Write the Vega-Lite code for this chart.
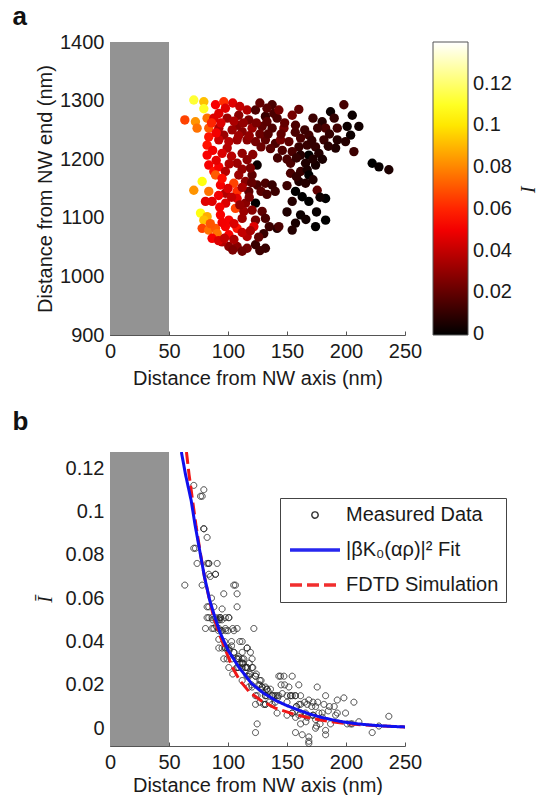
{
"$schema": "https://vega.github.io/schema/vega-lite/v6.json",
"padding": {"left": 12, "top": 4, "right": 8, "bottom": 0},
"background": "white",
"spacing": 21,
"resolve": {
  "scale": {"color": "independent", "shape": "independent", "strokeDash": "independent"},
  "legend": {"color": "independent", "shape": "independent", "strokeDash": "independent"}
},
"config": {
  "view": {"stroke": null},
  "font": "Liberation Sans",
  "title": {"fontSize": 26, "fontWeight": "bold", "anchor": "start", "frame": "group", "font": "Liberation Sans", "color": "#111"},
  "axis": {"labelFont": "Liberation Sans", "titleFont": "Liberation Sans", "labelFontSize": 20, "titleFontSize": 20, "titleFontWeight": "normal", "labelColor": "#1a1a1a", "titleColor": "#1a1a1a", "domainColor": "#555", "tickColor": "#555", "tickSize": -4, "labelPadding": 10, "grid": false, "labelFlush": false, "labelOverlap": false, "zindex": 1}
},
"datasets": {
"pts": [
{"d":71.0,"z":1301,"I":0.112},{"d":79.5,"z":1298,"I":0.092},{"d":79.5,"z":1286,"I":0.110},{"d":63.4,"z":1267,"I":0.066},{"d":72.4,"z":1264,"I":0.083},{"d":73.8,"z":1253,"I":0.076},{"d":82.3,"z":1270,"I":0.076},{"d":83.7,"z":1253,"I":0.071},{"d":89.4,"z":1293,"I":0.051},{"d":96.4,"z":1298,"I":0.062},{"d":97.8,"z":1287,"I":0.046},{"d":92.2,"z":1278,"I":0.046},{"d":88.0,"z":1270,"I":0.046},{"d":99.3,"z":1270,"I":0.032},{"d":109.1,"z":1275,"I":0.028},{"d":116.2,"z":1284,"I":0.037},{"d":123.3,"z":1284,"I":0.015},{"d":131.7,"z":1273,"I":0.011},{"d":137.4,"z":1293,"I":0.015},{"d":138.8,"z":1278,"I":0.015},{"d":117.6,"z":1267,"I":0.024},{"d":107.7,"z":1258,"I":0.028},{"d":83.7,"z":1238,"I":0.056},{"d":92.2,"z":1253,"I":0.037},{"d":96.4,"z":1241,"I":0.032},{"d":103.5,"z":1250,"I":0.032},{"d":112.0,"z":1247,"I":0.028},{"d":120.4,"z":1253,"I":0.032},{"d":128.9,"z":1256,"I":0.019},{"d":137.4,"z":1253,"I":0.015},{"d":141.6,"z":1270,"I":0.015},{"d":92.2,"z":1233,"I":0.041},{"d":100.7,"z":1230,"I":0.037},{"d":107.7,"z":1233,"I":0.032},{"d":116.2,"z":1233,"I":0.028},{"d":123.3,"z":1230,"I":0.024},{"d":131.7,"z":1233,"I":0.019},{"d":140.2,"z":1227,"I":0.015},{"d":82.3,"z":1224,"I":0.056},{"d":99.3,"z":1219,"I":0.037},{"d":82.3,"z":1207,"I":0.051},{"d":83.7,"z":1190,"I":0.051},{"d":107.7,"z":1193,"I":0.032},{"d":116.2,"z":1199,"I":0.028},{"d":124.7,"z":1190,"I":0.002},{"d":88.0,"z":1179,"I":0.056},{"d":92.2,"z":1187,"I":0.051},{"d":97.8,"z":1179,"I":0.037},{"d":89.4,"z":1173,"I":0.071},{"d":104.9,"z":1159,"I":0.066},{"d":109.1,"z":1173,"I":0.032},{"d":114.8,"z":1162,"I":0.028},{"d":120.4,"z":1173,"I":0.019},{"d":124.7,"z":1156,"I":0.015},{"d":131.7,"z":1159,"I":0.015},{"d":137.4,"z":1156,"I":0.011},{"d":78.1,"z":1162,"I":0.107},{"d":71.0,"z":1147,"I":0.083},{"d":83.7,"z":1145,"I":0.076},{"d":93.6,"z":1156,"I":0.051},{"d":97.8,"z":1142,"I":0.037},{"d":107.7,"z":1145,"I":0.062},{"d":117.6,"z":1145,"I":0.019},{"d":80.9,"z":1128,"I":0.046},{"d":86.5,"z":1128,"I":0.046},{"d":107.7,"z":1133,"I":0.046},{"d":114.8,"z":1125,"I":0.028},{"d":123.3,"z":1125,"I":-0.002},{"d":106.3,"z":1116,"I":0.066},{"d":113.4,"z":1111,"I":0.032},{"d":120.4,"z":1113,"I":0.028},{"d":128.9,"z":1111,"I":0.019},{"d":76.7,"z":1108,"I":0.107},{"d":82.3,"z":1102,"I":0.088},{"d":79.5,"z":1096,"I":0.092},{"d":93.6,"z":1105,"I":0.051},{"d":100.7,"z":1096,"I":0.051},{"d":112.0,"z":1099,"I":0.032},{"d":123.3,"z":1096,"I":0.024},{"d":131.7,"z":1099,"I":0.015},{"d":141.6,"z":1082,"I":0.007},{"d":78.1,"z":1082,"I":0.066},{"d":83.7,"z":1079,"I":0.076},{"d":89.4,"z":1082,"I":0.071},{"d":90.8,"z":1073,"I":0.076},{"d":97.8,"z":1085,"I":0.051},{"d":100.7,"z":1071,"I":0.051},{"d":107.7,"z":1082,"I":0.056},{"d":121.9,"z":1085,"I":0.046},{"d":116.2,"z":1068,"I":0.037},{"d":130.3,"z":1073,"I":0.011},{"d":100.7,"z":1051,"I":0.028},{"d":107.7,"z":1051,"I":0.028},{"d":116.2,"z":1048,"I":0.024},{"d":123.3,"z":1054,"I":0.011},{"d":131.7,"z":1048,"I":0.011},{"d":86.5,"z":1065,"I":0.051},{"d":95.0,"z":1059,"I":0.037},
{"d":143.1,"z":1284,"I":0.024},{"d":154.4,"z":1275,"I":0.024},{"d":157.2,"z":1258,"I":0.015},{"d":147.4,"z":1253,"I":0.024},{"d":186.9,"z":1281,"I":0.002},{"d":198.2,"z":1293,"I":0.014},{"d":205.3,"z":1275,"I":0.002},{"d":179.8,"z":1264,"I":0.007},{"d":182.7,"z":1253,"I":0.015},{"d":192.6,"z":1253,"I":0.013},{"d":201.0,"z":1256,"I":0.002},{"d":210.9,"z":1256,"I":0.003},{"d":203.9,"z":1241,"I":0.002},{"d":192.6,"z":1233,"I":0.007},{"d":199.6,"z":1230,"I":0.007},{"d":191.2,"z":1219,"I":0.006},{"d":206.7,"z":1213,"I":0.012},{"d":181.3,"z":1233,"I":0.011},{"d":168.5,"z":1241,"I":0.013},{"d":161.5,"z":1236,"I":0.015},{"d":144.5,"z":1233,"I":0.024},{"d":151.6,"z":1230,"I":0.019},{"d":160.1,"z":1221,"I":0.011},{"d":167.1,"z":1224,"I":0.011},{"d":174.2,"z":1221,"I":0.010},{"d":177.0,"z":1210,"I":0.007},{"d":168.5,"z":1207,"I":-0.004},{"d":161.5,"z":1207,"I":0.007},{"d":154.4,"z":1213,"I":0.015},{"d":165.7,"z":1193,"I":0.006},{"d":174.2,"z":1190,"I":0.004},{"d":153.0,"z":1193,"I":0.015},{"d":153.0,"z":1176,"I":0.015},{"d":161.5,"z":1179,"I":0.011},{"d":167.1,"z":1182,"I":0.005},{"d":168.5,"z":1173,"I":-0.006},{"d":160.1,"z":1162,"I":0.006},{"d":165.7,"z":1159,"I":0.007},{"d":175.6,"z":1147,"I":0.019},{"d":157.2,"z":1145,"I":-0.002},{"d":154.4,"z":1128,"I":0.007},{"d":162.9,"z":1136,"I":-0.003},{"d":168.5,"z":1128,"I":-0.007},{"d":182.7,"z":1133,"I":-0.003},{"d":222.2,"z":1193,"I":-0.002},{"d":227.9,"z":1187,"I":0.001},{"d":236.3,"z":1182,"I":0.0055},{"d":161.5,"z":1105,"I":0.002},{"d":157.2,"z":1091,"I":0.005},{"d":182.7,"z":1096,"I":-0.001},{"d":174.2,"z":1085,"I":0.0},{"d":143.1,"z":1085,"I":0.015},{"d":154.4,"z":1079,"I":0.007},
{"d":104,"z":1296,"I":0.046},{"d":110,"z":1290,"I":0.040},{"d":127,"z":1296,"I":0.020},{"d":133,"z":1287,"I":0.018},{"d":86,"z":1262,"I":0.060},{"d":94,"z":1262,"I":0.045},{"d":90,"z":1245,"I":0.050},{"d":105,"z":1265,"I":0.035},{"d":113,"z":1262,"I":0.030},{"d":124,"z":1262,"I":0.025},{"d":109,"z":1240,"I":0.033},{"d":118,"z":1240,"I":0.030},{"d":127,"z":1243,"I":0.022},{"d":133,"z":1264,"I":0.018},{"d":134,"z":1243,"I":0.017},{"d":145,"z":1243,"I":0.020},{"d":148,"z":1262,"I":0.020},{"d":128,"z":1221,"I":0.022},{"d":136,"z":1218,"I":0.018},{"d":146,"z":1215,"I":0.016},{"d":142,"z":1202,"I":0.014},{"d":150,"z":1200,"I":0.015},{"d":87,"z":1215,"I":0.050},{"d":95,"z":1210,"I":0.045},{"d":103,"z":1205,"I":0.038},{"d":90,"z":1198,"I":0.047},{"d":101,"z":1192,"I":0.036},{"d":112,"z":1210,"I":0.030},{"d":121,"z":1208,"I":0.028},{"d":112,"z":1183,"I":0.030},{"d":119,"z":1185,"I":0.025},{"d":95,"z":1167,"I":0.055},{"d":100,"z":1150,"I":0.045},{"d":112,"z":1152,"I":0.035},{"d":120,"z":1160,"I":0.020},{"d":128,"z":1145,"I":0.018},{"d":133,"z":1140,"I":0.015},{"d":140,"z":1145,"I":0.012},{"d":92,"z":1138,"I":0.050},{"d":98,"z":1125,"I":0.045},{"d":103,"z":1135,"I":0.040},{"d":110,"z":1122,"I":0.030},{"d":118,"z":1135,"I":0.025},{"d":93,"z":1118,"I":0.050},{"d":85,"z":1090,"I":0.070},{"d":95,"z":1092,"I":0.050},{"d":105,"z":1090,"I":0.045},{"d":112,"z":1075,"I":0.040},{"d":105,"z":1063,"I":0.035},{"d":119,"z":1078,"I":0.035},{"d":126,"z":1067,"I":0.020},{"d":135,"z":1085,"I":0.012},{"d":92,"z":1061,"I":0.045},{"d":97,"z":1065,"I":0.040},{"d":104,"z":1045,"I":0.025},{"d":112,"z":1043,"I":0.022},{"d":127,"z":1044,"I":0.012},{"d":160,"z":1285,"I":0.020},{"d":172,"z":1270,"I":0.012},{"d":190,"z":1270,"I":0.010},{"d":176,"z":1253,"I":0.012},{"d":157,"z":1246,"I":0.015},{"d":165,"z":1250,"I":0.012},{"d":171,"z":1232,"I":0.010},{"d":186,"z":1243,"I":0.010},{"d":158,"z":1202,"I":0.010},{"d":172,"z":1200,"I":0.006},{"d":180,"z":1200,"I":0.005},{"d":185,"z":1222,"I":0.008},{"d":150,"z":1155,"I":0.012},{"d":158,"z":1170,"I":0.010},{"d":172,"z":1165,"I":0.006},{"d":178,"z":1135,"I":0.002},{"d":150,"z":1110,"I":0.006},{"d":166,"z":1097,"I":0.003},{"d":175,"z":1110,"I":0.001}
],
"fit": [
{"d":60.5,"I":0.1274},{"d":64,"I":0.117},{"d":68.8,"I":0.105},{"d":72,"I":0.094},{"d":76,"I":0.082},{"d":80,"I":0.070},{"d":84.5,"I":0.059},{"d":89,"I":0.051},{"d":93.6,"I":0.0437},{"d":100,"I":0.036},{"d":109,"I":0.0283},{"d":120,"I":0.0206},{"d":130,"I":0.0162},{"d":140,"I":0.0129},{"d":150,"I":0.0104},{"d":160,"I":0.0083},{"d":170,"I":0.0064},{"d":180,"I":0.0049},{"d":190,"I":0.0037},{"d":200,"I":0.0027},{"d":210,"I":0.0020},{"d":220,"I":0.0015},{"d":230,"I":0.0011},{"d":240,"I":0.0008},{"d":250,"I":0.0006}
],
"fdtd": [
{"d":64.8,"I":0.1274},{"d":67,"I":0.117},{"d":70,"I":0.105},{"d":73,"I":0.093},{"d":76.5,"I":0.081},{"d":80,"I":0.070},{"d":84,"I":0.060},{"d":88,"I":0.051},{"d":93,"I":0.043},{"d":98,"I":0.036},{"d":103.5,"I":0.0283},{"d":110,"I":0.022},{"d":118,"I":0.0168},{"d":127.5,"I":0.0129},{"d":140,"I":0.0093},{"d":155,"I":0.0066},{"d":170,"I":0.0046},{"d":185,"I":0.0032},{"d":200,"I":0.0022},{"d":215,"I":0.0015},{"d":230,"I":0.0010},{"d":250,"I":0.0006}
]
},
"vconcat": [
{
  "title": {"text": "a", "dx": -97.5, "offset": 2},
  "width": 295, "height": 293,
  "layer": [
    {"data": {"values": [{"from": 0, "to": 50}]},
     "mark": {"type": "rect", "color": "#939393"},
     "encoding": {
       "x": {"field": "from", "type": "quantitative", "scale": {"domain": [0, 250], "nice": false}, "axis": {"title": "Distance from NW axis (nm)", "values": [0, 50, 100, 150, 200, 250], "titlePadding": 7}},
       "x2": {"field": "to"}
     }},
    {"data": {"name": "pts"},
     "mark": {"type": "circle", "size": 88, "opacity": 1},
     "encoding": {
       "x": {"field": "d", "type": "quantitative"},
       "y": {"field": "z", "type": "quantitative", "scale": {"domain": [900, 1400], "nice": false, "zero": false}, "axis": {"title": "Distance from NW end (nm)", "values": [900, 1000, 1100, 1200, 1300, 1400], "format": "d", "titlePadding": 4}},
       "color": {"field": "I", "type": "quantitative",
         "scale": {"domain": [-0.0005, 0.0525, 0.105, 0.14], "range": ["#000000", "#ff0000", "#ffff00", "#ffffff"], "interpolate": "rgb", "clamp": true},
         "legend": {"title": "I", "orient": "right", "offset": 28, "gradientLength": 293, "gradientThickness": 35, "values": [0, 0.02, 0.04, 0.06, 0.08, 0.1, 0.12], "format": ".2~f", "labelFontSize": 20, "labelFont": "Liberation Sans", "labelColor": "#1a1a1a", "labelOffset": 5, "labelOverlap": false, "titleOrient": "right", "titleAnchor": "middle", "titleFont": "Liberation Serif", "titleFontStyle": "italic", "titleFontWeight": "normal", "titleFontSize": 20, "titleColor": "#1a1a1a", "titlePadding": 5, "gradientStrokeColor": "#555", "gradientStrokeWidth": 1}}
     }}
  ]
},
{
  "title": {"text": "b", "dx": -97.5, "offset": 17},
  "width": 295, "height": 294,
  "layer": [
    {"data": {"values": [{"from": 0, "to": 50}]},
     "mark": {"type": "rect", "color": "#939393"},
     "encoding": {
       "x": {"field": "from", "type": "quantitative", "scale": {"domain": [0, 250], "nice": false}, "axis": {"title": "Distance from NW axis (nm)", "values": [0, 50, 100, 150, 200, 250], "titlePadding": 3}},
       "x2": {"field": "to"}
     }},
    {"data": {"name": "pts"},
     "mark": {"type": "point", "filled": false, "size": 36, "opacity": 0.9, "strokeWidth": 1},
     "encoding": {
       "x": {"field": "d", "type": "quantitative"},
       "y": {"field": "I", "type": "quantitative", "scale": {"domain": [-0.0082, 0.1274], "nice": false, "zero": false}, "axis": {"title": "Ī", "titleFont": "Liberation Serif", "titleFontStyle": "italic", "values": [0, 0.02, 0.04, 0.06, 0.08, 0.1, 0.12], "format": ".2~f", "titlePadding": 10}},
       "color": {"datum": "Measured Data", "type": "nominal",
         "scale": {"domain": ["Measured Data", "|βK₀(αρ)|² Fit", "FDTD Simulation"], "range": ["#222222", "#1010ee", "#f01818"]},
         "legend": {"title": null, "orient": "none", "legendX": 170, "legendY": 46, "direction": "vertical", "symbolSize": 40, "symbolOffset": 18, "labelOffset": 21, "rowPadding": 15, "padding": 7, "strokeColor": "#444", "fillColor": "white", "labelFontSize": 20, "labelFont": "Liberation Sans", "labelColor": "#1a1a1a", "labelLimit": 300}},
       "shape": {"datum": "Measured Data", "type": "nominal",
         "scale": {"domain": ["Measured Data", "|βK₀(αρ)|² Fit", "FDTD Simulation"], "range": ["circle", "M-7.9,-0.3H7.9M-7.9,0H7.9M-7.9,0.3H7.9", "M-7.9,-0.3H7.9M-7.9,0H7.9M-7.9,0.3H7.9"]}},
       "strokeDash": {"datum": "Measured Data", "type": "nominal",
         "scale": {"domain": ["Measured Data", "|βK₀(αρ)|² Fit", "FDTD Simulation"], "range": [[1, 0], [1, 0], [12, 5]]}}
     }},
    {"data": {"name": "fdtd"},
     "mark": {"type": "line", "clip": true, "strokeWidth": 3},
     "encoding": {
       "x": {"field": "d", "type": "quantitative"},
       "y": {"field": "I", "type": "quantitative"},
       "color": {"datum": "FDTD Simulation", "type": "nominal"},
       "strokeDash": {"datum": "FDTD Simulation", "type": "nominal"}
     }},
    {"data": {"name": "fit"},
     "mark": {"type": "line", "clip": true, "strokeWidth": 3},
     "encoding": {
       "x": {"field": "d", "type": "quantitative"},
       "y": {"field": "I", "type": "quantitative"},
       "color": {"datum": "|βK₀(αρ)|² Fit", "type": "nominal"},
       "strokeDash": {"datum": "|βK₀(αρ)|² Fit", "type": "nominal"}
     }}
  ]
}
]
}
